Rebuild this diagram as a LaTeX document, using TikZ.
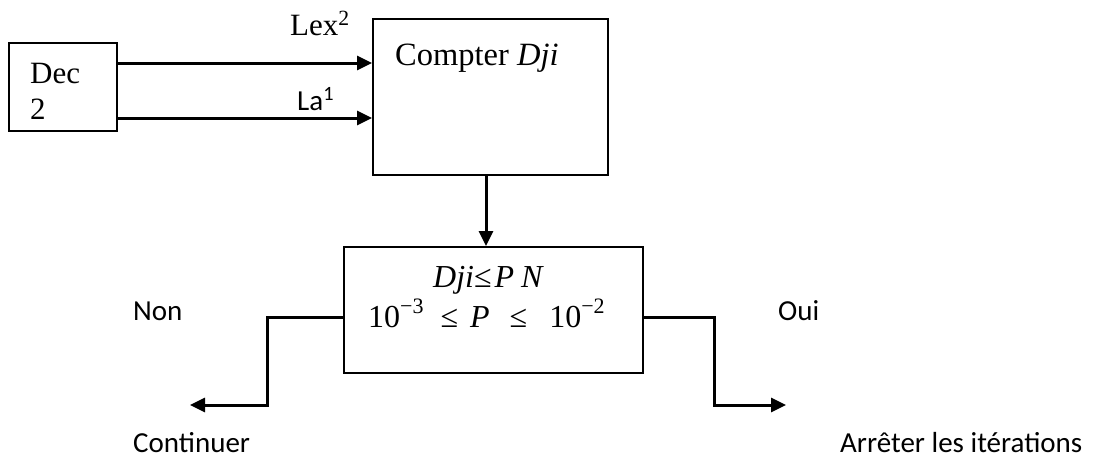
\documentclass[tikz,border=0pt]{standalone}
\usepackage{fontspec}
\setmainfont{Liberation Serif}
\newfontfamily\sansf{Carlito}
\usetikzlibrary{arrows.meta}
\newcommand{\supx}[1]{\raisebox{0.42em}{\fontsize{22}{22}\selectfont #1}}
\begin{document}
\begin{tikzpicture}[x=1pt,y=-1pt,
  box/.style={draw, line width=2pt, inner sep=0pt},
  arr/.style={line width=3pt, -{Triangle[length=15pt,width=14pt]}},
  serif/.style={font=\fontsize{31}{37}\selectfont, inner sep=0pt},
  sans/.style={font=\sansf\fontsize{29}{35}\selectfont, inner sep=0pt},
  mathtxt/.style={font=\fontsize{32}{38}\selectfont, inner sep=0pt},
]
\useasboundingbox (0,0) rectangle (1093,459);
% boxes
\node[box, minimum width=108pt, minimum height=88pt] (dec) at (63,87) {};
\node[box, minimum width=235pt, minimum height=156pt] (comp) at (490.5,97) {};
\node[box, minimum width=299pt, minimum height=126pt] (cond) at (493.5,310) {};
% texts in boxes
\node[serif, anchor=base west] (decA) at (30,83) {Dec};
\node[serif, anchor=base west] (decB) at (30,119) {2};
\node[serif, anchor=base west, font=\fontsize{32.5}{38}\selectfont] (compt) at (395,65) {Compter \textit{Dji}};
\node[mathtxt, anchor=base west] (cA) at (433,287) {\textit{Dji}≤\hspace{3pt}\textit{P}\hspace{7pt}\textit{N}};
\node[mathtxt, anchor=base west] (cB) at (368,327) {10\supx{−3}\hspace{17pt}≤\hspace{12pt}\textit{P}\hspace{20pt}≤\hspace{22pt}10\supx{−2}};
% labels
\node[serif, anchor=base west] (lex) at (290,35) {Lex\textsuperscript{2}};
\node[sans, anchor=base west] (la) at (297,110) {La\textsuperscript{1}};
\node[sans, anchor=base west] (non) at (133,320) {Non};
\node[sans, anchor=base west] (oui) at (778,320) {Oui};
\node[sans, anchor=base west] (cont) at (133,452) {Continuer};
\node[sans, anchor=base west] (stop) at (840,452) {Arrêter les itérations};
% connectors
\coordinate (d1) at ([yshift=24pt]dec.east);
\coordinate (d2) at ([yshift=-31pt]dec.east);
\draw[arr] (d1) -- (d1 -| comp.west);
\draw[arr] (d2) -- (d2 -| comp.west);
\draw[arr] ([xshift=-4.5pt]comp.south) -- ([xshift=-7.5pt]cond.north);
\coordinate (nl) at ([yshift=-7pt]cond.west);
\coordinate (nc) at (267,405);
\coordinate (ne) at (190,405);
\draw[arr] (nl) -| (nc) -- (ne);
\coordinate (nr) at ([yshift=-7pt]cond.east);
\coordinate (oc) at (714,405);
\coordinate (oe) at (786,405);
\draw[arr] (nr) -| (oc) -- (oe);
\end{tikzpicture}
\end{document}
